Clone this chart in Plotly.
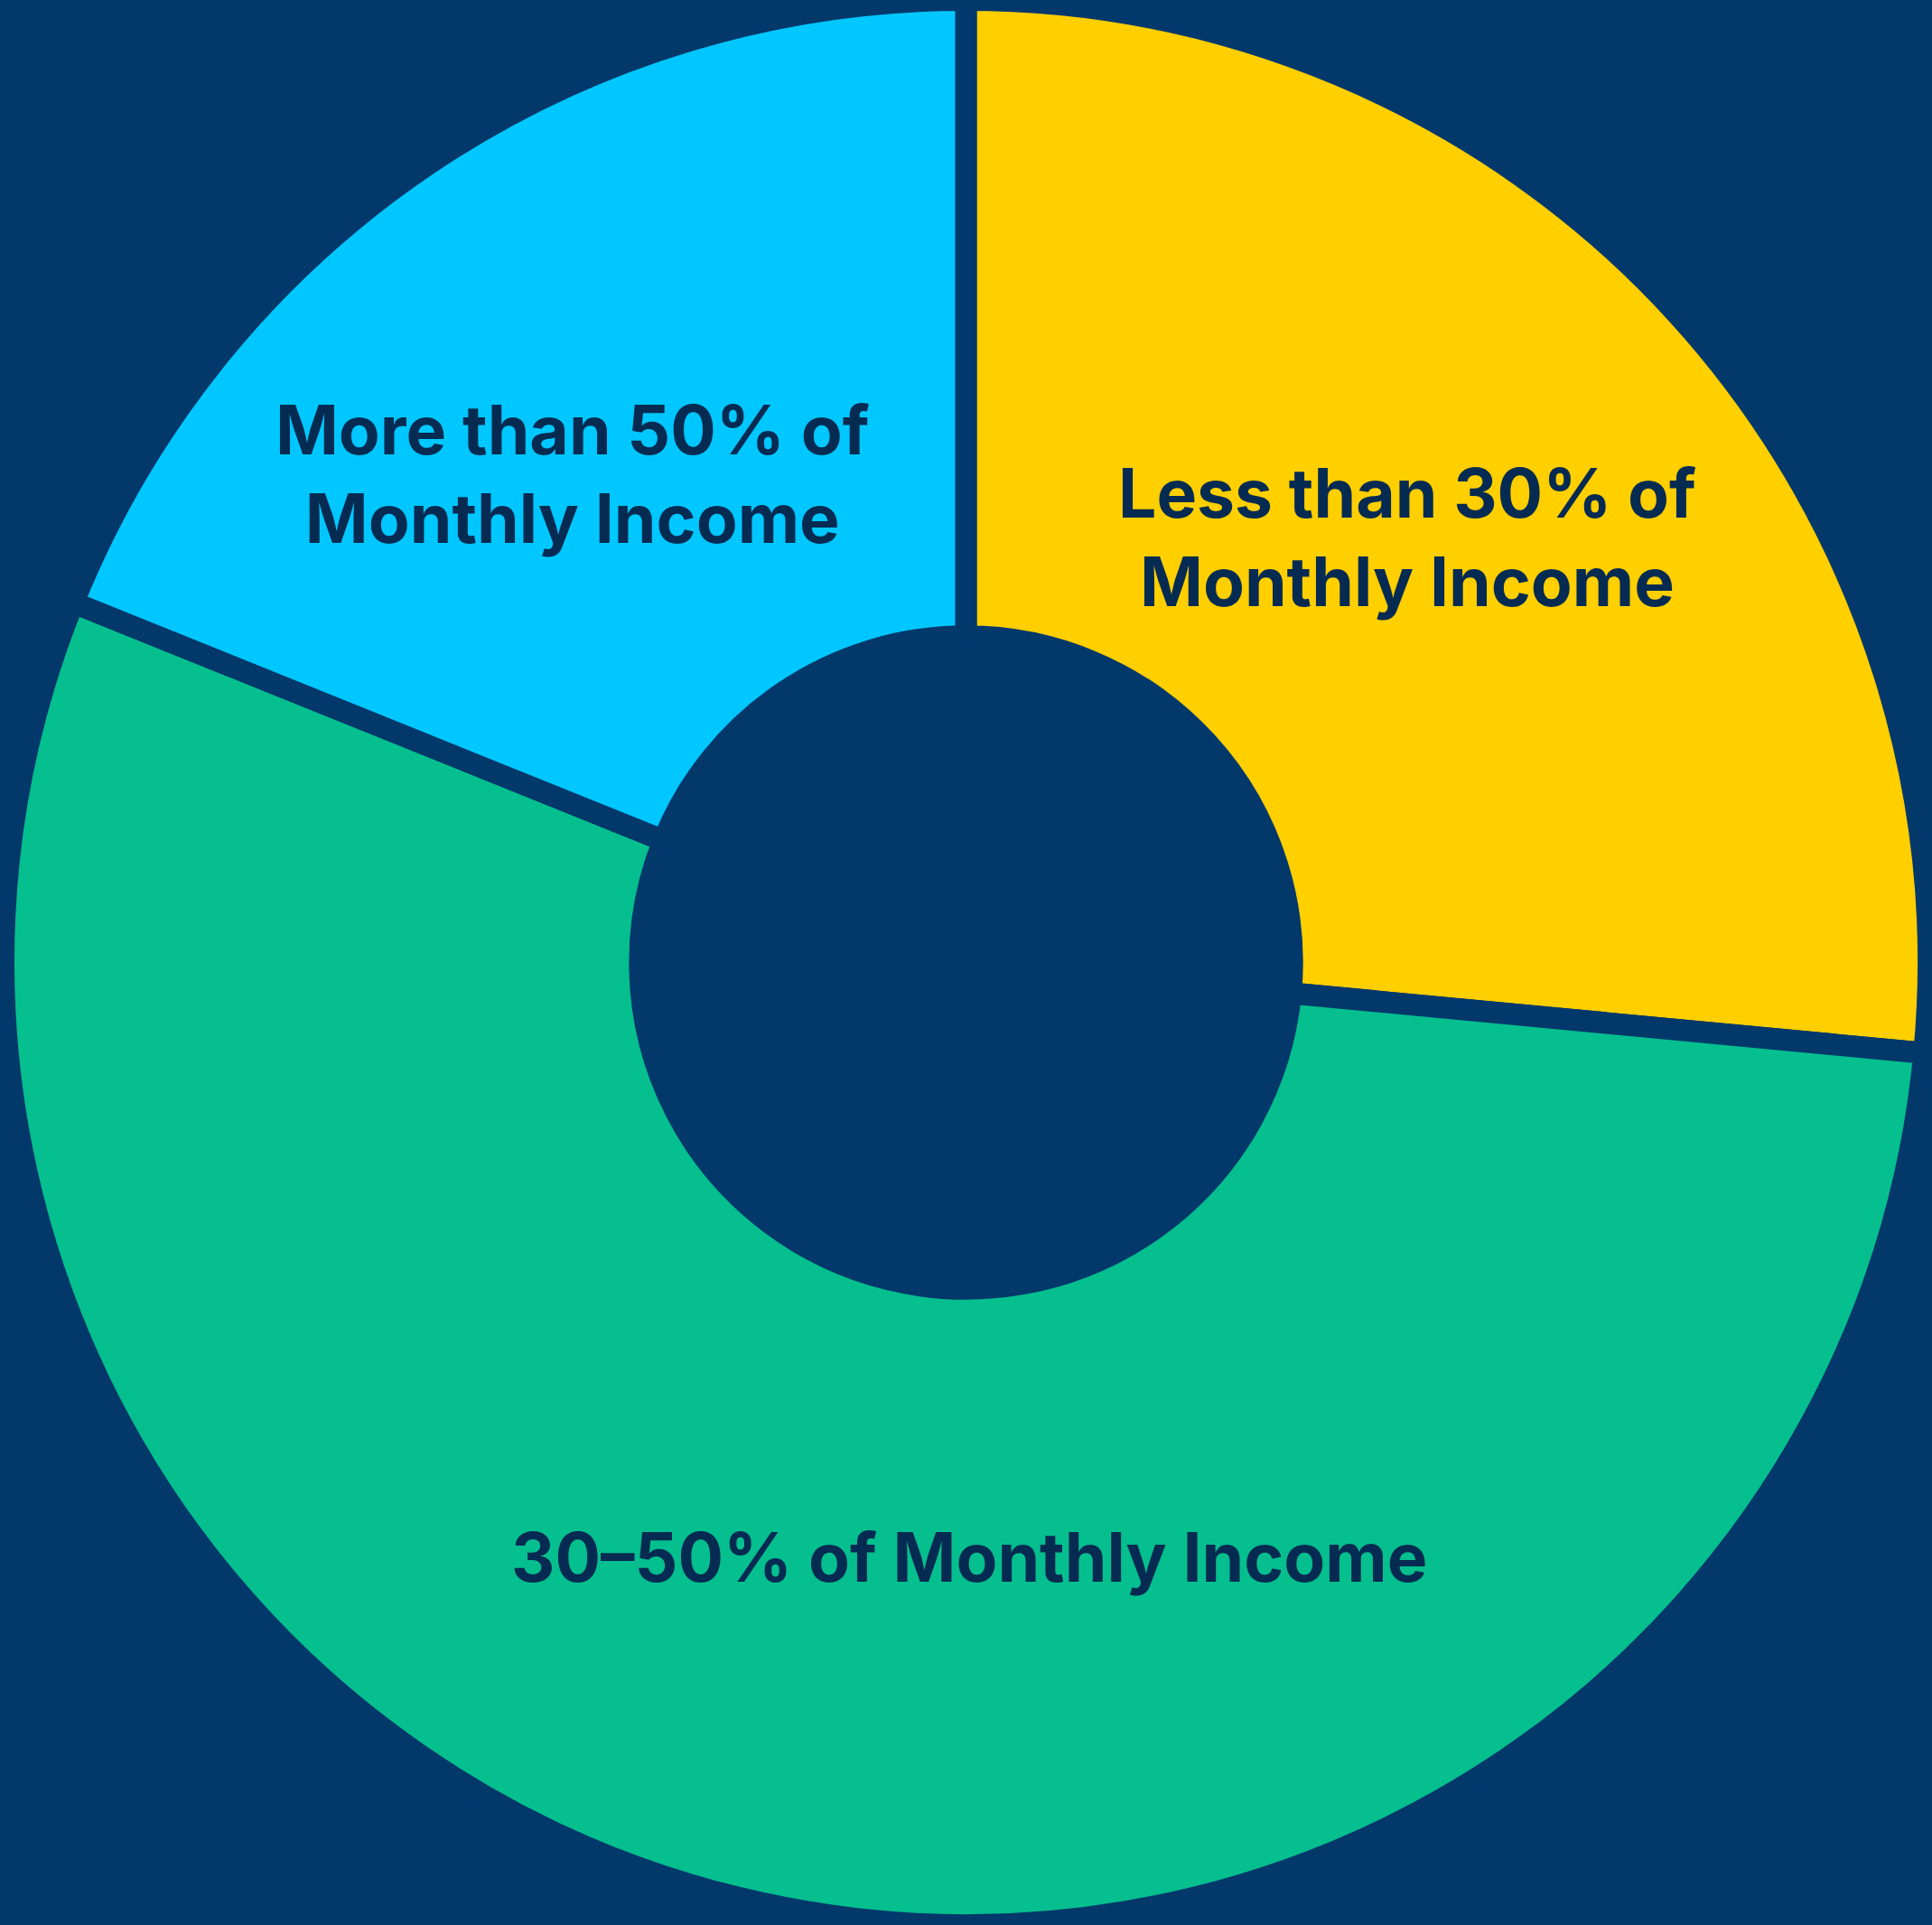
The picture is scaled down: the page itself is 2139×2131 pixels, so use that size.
import plotly.graph_objects as go

# Share of renters by rent burden (percent of monthly income spent on rent)
categories = ["Less than 30% of Monthly Income",
              "30–50% of Monthly Income",
              "More than 50% of Monthly Income"]
shares = [26.5, 54.6, 18.9]
label_text = ["Less than 30% of<br>Monthly Income",
              "30–50% of Monthly Income",
              "More than 50% of<br>Monthly Income"]

NAVY = "#03386B"
TEXT = "#062B52"
slice_colors = ["#FFCF00", "#05BF8E", "#00C7FF"]

fig = go.Figure(go.Pie(
    labels=categories,
    values=shares,
    sort=False,
    direction="clockwise",
    rotation=0,
    hole=0.339,
    marker=dict(colors=slice_colors, line=dict(color=NAVY, width=24)),
    textinfo="none",
    hoverinfo="skip",
    showlegend=False,
    domain=dict(x=[0, 1], y=[0, 1]),
))

# Label placement inside each ring segment (paper coordinates)
label_pos = [(0.7284, 0.7208), (0.5016, 0.191), (0.2964, 0.7541)]
for txt, (x, y) in zip(label_text, label_pos):
    fig.add_annotation(
        x=x, y=y, xref="paper", yref="paper",
        xanchor="center", yanchor="middle",
        text=txt, showarrow=False, align="center",
        font=dict(family="Inter", size=75, color=TEXT, weight=700),
    )

fig.update_layout(
    paper_bgcolor=NAVY,
    plot_bgcolor=NAVY,
    margin=dict(l=0, r=0, t=0, b=0),
)

fig.write_html("out.html")
